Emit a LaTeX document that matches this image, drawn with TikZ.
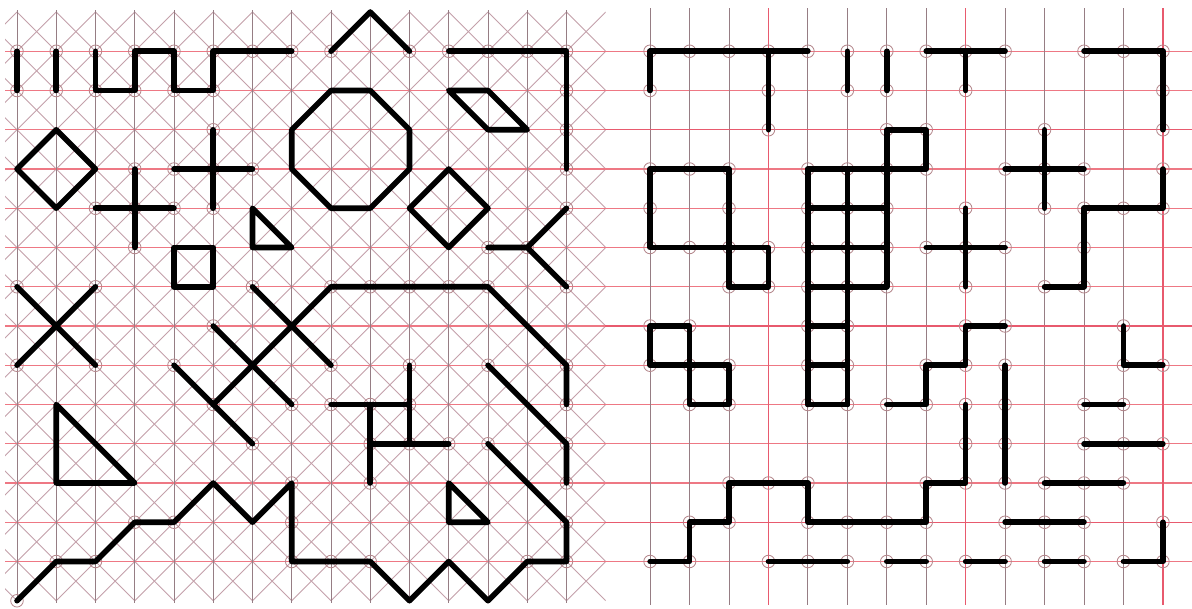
\documentclass[tikz,border=0pt]{standalone}
\usepackage{tikz}
\usepackage{xcolor}

\definecolor{gridred}{RGB}{238,120,132}
\definecolor{gridbold}{RGB}{232,90,110}
\definecolor{gridgray}{RGB}{150,125,132}
\definecolor{diaggray}{RGB}{196,160,170}
\definecolor{ringgray}{RGB}{180,135,140}

\begin{document}
\begin{tikzpicture}[x=1cm, y=-1cm,
  hline/.style={gridred, line width=0.8pt},
  vline/.style={gridgray, line width=0.6pt},
  dline/.style={diaggray, line width=0.6pt},
  boldline/.style={gridbold, line width=1pt},
  pen/.style={line width=4pt, line cap=round, line join=round},
  ring/.style={ringgray, line width=0.6pt}]
  \useasboundingbox (-0.433,-0.306) rectangle (29.937,15.21);
  \fill[white] (-0.433,-0.306) rectangle (29.937,15.21);

  % Left sheet: square grid with diagonals
  \begin{scope}
    \clip (-0.3,-0.05) rectangle (15,15.05);
    \foreach \c in {-16,...,15} \draw[dline] (\c,0) -- ++(15,15);
    \foreach \c in {0,...,31} \draw[dline] (\c,0) -- ++(-15,15);
    \foreach \r in {1,...,14} \draw[hline] (-0.3,\r) -- (15,\r);
    \foreach \c in {0,...,14} \draw[vline] (\c,-0.05) -- (\c,15.05);
  \end{scope}

  % Left sheet: end point rings
  \foreach \x/\y in {0/1,0/2,1/1,1/2,2/1,2/2,3/2,3/1,4/1,4/2,5/2,5/1,6/1,7/1,
      8/1,10/1,11/1,12/1,13/1,14/1,14/2,14/3,14/4,
      4/4,5/4,6/4,5/3,5/5,2/5,3/5,4/5,3/4,3/6,
      12/6,13/6,14/5,14/7,0/7,2/7,0/9,2/9,
      6/7,8/9,5/8,7/10,4/9,6/11,
      5/10,8/7,9/7,10/7,11/7,12/7,14/9,14/10,12/9,14/11,14/12,
      10/9,10/10,10/11,8/10,9/10,9/11,11/11,9/12,
      12/11,14/13,14/14,13/14,0/15,1/14,2/14,3/13,4/13,7/12,7/13,7/14,8/14,9/14}
    \draw[ring] (\x,\y) circle (0.16);

  % Left sheet: figures
  \draw[pen] (0,1) -- (0,2);
  \draw[pen] (1,1) -- (1,2);
  \draw[pen] (2,1) -- (2,2) -- (3,2) -- (3,1) -- (4,1) -- (4,2) -- (5,2) -- (5,1) -- (7,1);
  \draw[pen] (8,1) -- (9,0) -- (10,1);
  \draw[pen] (11,1) -- (14,1) -- (14,4);
  \draw[pen] (11,2) -- (12,2) -- (13,3) -- (12,3) -- cycle;
  \draw[pen] (8,2) -- (9,2) -- (10,3) -- (10,4) -- (9,5) -- (8,5) -- (7,4) -- (7,3) -- cycle;
  \draw[pen] (1,3) -- (2,4) -- (1,5) -- (0,4) -- cycle;
  \draw[pen] (11,4) -- (12,5) -- (11,6) -- (10,5) -- cycle;
  \draw[pen] (4,4) -- (6,4) (5,3) -- (5,5);
  \draw[pen] (2,5) -- (4,5) (3,4) -- (3,6);
  \draw[pen] (6,5) -- (6,6) -- (7,6) -- cycle;
  \draw[pen] (4,6) rectangle (5,7);
  \draw[pen] (12,6) -- (13,6) (14,5) -- (13,6) -- (14,7);
  \draw[pen] (0,7) -- (2,9) (2,7) -- (0,9);
  \draw[pen] (6,7) -- (8,9);
  \draw[pen] (5,8) -- (7,10);
  \draw[pen] (4,9) -- (6,11);
  \draw[pen] (5,10) -- (8,7) -- (12,7) -- (14,9) -- (14,10);
  \draw[pen] (12,9) -- (14,11) -- (14,12);
  \draw[pen] (10,9) -- (10,11) (8,10) -- (10,10) (9,11) -- (11,11) (9,10) -- (9,12);
  \draw[pen] (1,10) -- (1,12) -- (3,12) -- cycle;
  \draw[pen] (11,12) -- (11,13) -- (12,13) -- cycle;
  \draw[pen] (0,15) -- (1,14) -- (2,14) -- (3,13) -- (4,13) -- (5,12) -- (6,13) -- (7,12)
    -- (7,14) -- (9,14) -- (10,15) -- (11,14) -- (12,15) -- (13,14) -- (14,14) -- (14,13) -- (12,11);

  % Right sheet: plain square grid
  \begin{scope}[xshift=16.13cm, x=1.005cm]
    \foreach \r in {1,...,14} \draw[hline] (-1.14,\r) -- (13.74,\r);
    \foreach \c in {0,...,13} \draw[vline] (\c,-0.1) -- (\c,15.1);
    \foreach \k in {3,8,13} {
      \draw[boldline] (-1.14,\k) -- (13.74,\k);
      \draw[boldline] (\k,-0.1) -- (\k,15.1);
    }

    % Right sheet: end point rings
    \foreach \x/\y in {0/1,1/1,2/1,3/1,4/1,5/1,6/1,7/1,8/1,9/1,11/1,12/1,13/1,
        0/2,3/2,3/3,5/2,6/2,8/2,13/2,13/3,
        0/4,1/4,2/4,0/5,2/5,0/6,1/6,2/6,3/6,2/7,3/7,
        4/4,5/4,6/4,4/5,5/5,6/5,4/6,5/6,6/6,4/7,5/7,6/7,6/3,7/3,7/4,
        4/8,5/8,4/9,5/9,4/10,5/10,
        9/4,10/4,11/4,10/3,10/5,13/4,13/5,12/5,11/5,11/6,11/7,10/7,
        7/6,8/6,9/6,8/5,8/7,
        0/8,1/8,0/9,1/9,2/9,1/10,2/10,
        6/10,7/10,7/9,8/9,8/8,9/8,12/8,12/9,13/9,9/9,9/10,9/11,9/12,
        0/14,1/14,1/13,2/13,2/12,3/12,4/12,4/13,5/13,6/13,7/13,7/12,8/12,8/11,8/10,
        11/10,12/10,11/11,12/11,13/11,10/12,11/12,12/12,9/13,10/13,11/13,
        3/14,4/14,5/14,6/14,7/14,8/14,9/14,10/14,11/14,12/14,13/14,13/13}
      \draw[ring] (\x,\y) circle (0.16);

    % Right sheet: figures
    \draw[pen] (0,2) -- (0,1) -- (4,1) (3,1) -- (3,3);
    \draw[pen] (5,1) -- (5,2);
    \draw[pen] (6,1) -- (6,2);
    \draw[pen] (7,1) -- (9,1) (8,1) -- (8,2);
    \draw[pen] (11,1) -- (13,1) -- (13,3);
    \draw[pen] (0,4) rectangle (2,6) (2,6) rectangle (3,7);
    \foreach \r in {4,...,7} \draw[pen] (4,\r) -- (6,\r);
    \foreach \c in {4,5} \draw[pen] (\c,4) -- (\c,10);
    \foreach \r in {8,9,10} \draw[pen] (4,\r) -- (5,\r);
    \draw[pen] (6,3) -- (6,7) (6,3) rectangle (7,4);
    \draw[pen] (9,4) -- (11,4) (10,3) -- (10,5);
    \draw[pen] (13,4) -- (13,5) -- (11,5) -- (11,7) -- (10,7);
    \draw[pen] (7,6) -- (9,6) (8,5) -- (8,7);
    \draw[pen] (0,8) rectangle (1,9) (1,9) rectangle (2,10);
    \draw[pen] (6,10) -- (7,10) -- (7,9) -- (8,9) -- (8,8) -- (9,8);
    \draw[pen] (12,8) -- (12,9) -- (13,9);
    \draw[pen] (9,9) -- (9,12);
    \draw[pen] (0,14) -- (1,14) -- (1,13) -- (2,13) -- (2,12) -- (4,12) -- (4,13) -- (7,13)
      -- (7,12) -- (8,12) -- (8,10);
    \draw[pen] (11,10) -- (12,10);
    \draw[pen] (11,11) -- (13,11);
    \draw[pen] (10,12) -- (12,12);
    \draw[pen] (9,13) -- (11,13);
    \draw[pen] (3,14) -- (5,14) (6,14) -- (7,14) (8,14) -- (9,14) (10,14) -- (11,14);
    \draw[pen] (12,14) -- (13,14) -- (13,13);
  \end{scope}
\end{tikzpicture}
\end{document}
